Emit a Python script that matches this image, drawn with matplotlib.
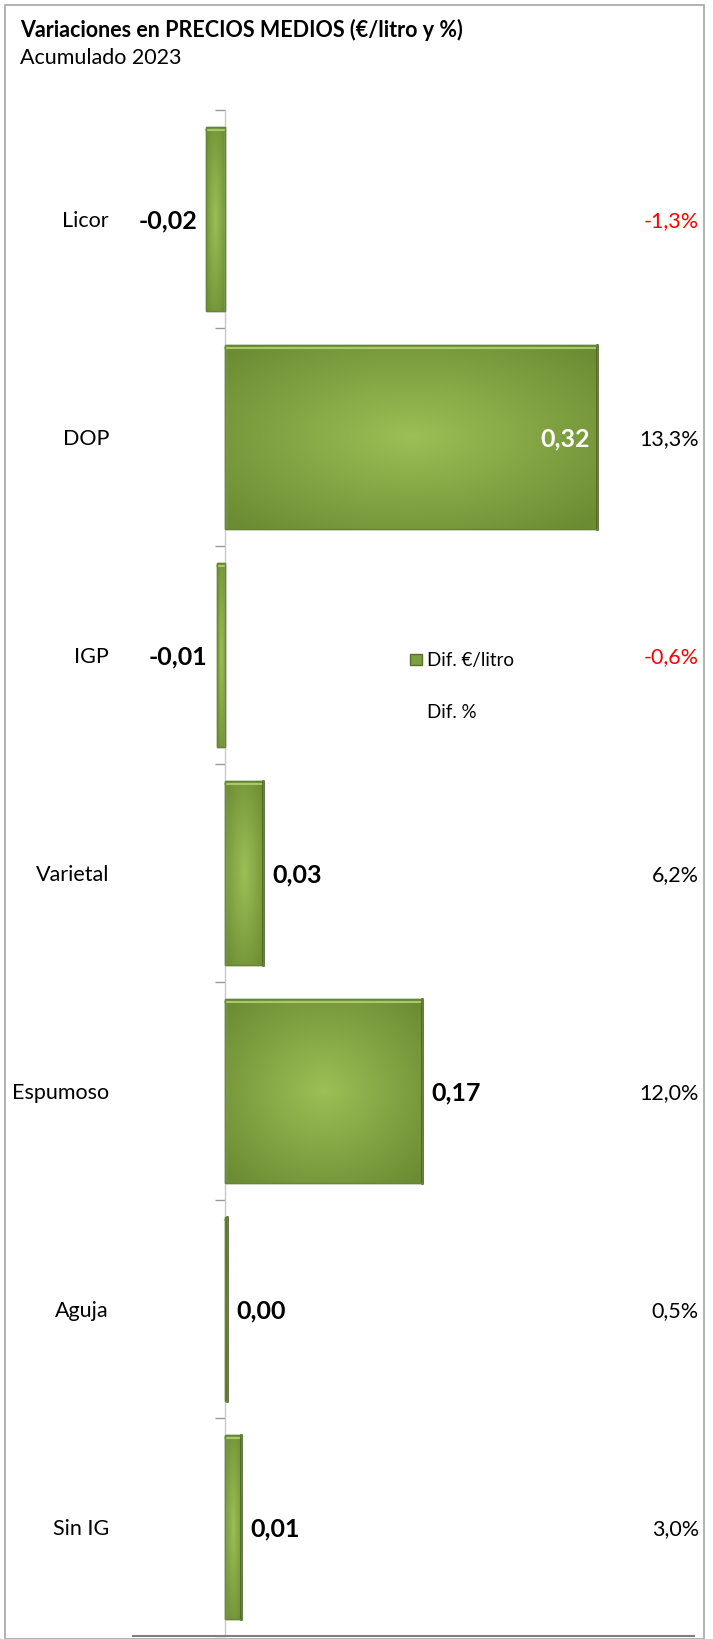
import numpy as np
import matplotlib
matplotlib.use("Agg")
import matplotlib.pyplot as plt
from matplotlib.colors import LinearSegmentedColormap
from matplotlib.patches import Patch, Rectangle
from matplotlib.lines import Line2D
import matplotlib.transforms as mtransforms

plt.rcParams['font.family'] = ['Lato', 'DejaVu Sans']

# ---------------- data ----------------
categories = ["Licor", "DOP", "IGP", "Varietal", "Espumoso", "Aguja", "Sin IG"]
dif_eur = [-0.016, 0.32, -0.007, 0.033, 0.17, 0.002, 0.014]
dif_pct = [-1.3, 13.3, -0.6, 6.2, 12.0, 0.5, 3.0]
title = "Variaciones en PRECIOS MEDIOS (€/litro y %)"
subtitle = "Acumulado 2023"
legend_labels = ["Dif. €/litro", "Dif. %"]

W, H = 713, 1639
fig = plt.figure(figsize=(W / 100, H / 100), dpi=100)

# outer border
fig.patches.append(Rectangle((5 / W, 0), (704 - 5) / W, 1 - 5 / H, transform=fig.transFigure,
                             fill=False, edgecolor="#A6A6A6", lw=1.2))

ax = fig.add_axes([133 / W, 1 - 1636 / H, (694 - 133) / W, (1636 - 110) / H])
ax.set_xlim(-0.0788, 0.4035)
ax.set_ylim(len(categories) - 0.5, -0.5)

ypos = np.arange(len(categories))
bar_h = 0.845
bars = ax.barh(ypos, dif_eur, height=bar_h, color="#8DB04A", edgecolor="#6A8A35", lw=1.0, zorder=2)

# gradient fill inside each bar
cmap = LinearSegmentedColormap.from_list("g", ["#6C8C33", "#84A544", "#9CBF56"])
nu, nv = 80, 80
u = np.linspace(-1, 1, nu)
v = np.linspace(-1, 1, nv)
UU, VV = np.meshgrid(u, v)
grad = 1 - np.clip(np.sqrt(UU ** 2 + VV ** 2), 0, 1.35) / 1.35
for b in bars:
    x0, y0, w, h = b.get_x(), b.get_y(), b.get_width(), b.get_height()
    x1 = x0 + w
    im = ax.imshow(grad, cmap=cmap, extent=(min(x0, x1), max(x0, x1), y0 + h, y0),
                   aspect="auto", zorder=2.5, interpolation="bilinear", vmin=0, vmax=1)
    im.set_clip_path(b)
    # light top highlight
    ax.add_line(Line2D([x0, x1], [y0 + 0.012, y0 + 0.012], color="#A9C86C", lw=1.5, zorder=2.8))
    # darker outer end
    if w > 0:
        ax.add_line(Line2D([x1, x1], [y0, y0 + h], color="#3F5420", lw=1.8, zorder=3))
    ax.add_patch(Rectangle((x0, y0), w, h, fill=False, edgecolor="#66853A", lw=1.0, zorder=3))

ax.set_xlim(-0.0788, 0.4035)
ax.set_ylim(len(categories) - 0.5, -0.5)

# spines & ticks
for s in ["top", "right"]:
    ax.spines[s].set_visible(False)
ax.spines["left"].set_position(("data", 0))
ax.spines["left"].set_color("#C8C8C8")
ax.spines["left"].set_linewidth(1.0)
ax.spines["bottom"].set_color("#7F7F7F")
ax.spines["bottom"].set_linewidth(1.5)
ax.set_xticks([])
ax.set_yticks(np.arange(-0.5, len(categories) + 0.5, 1.0))
ax.set_yticklabels([])
ax.tick_params(axis="y", direction="out", length=7, color="#999999", width=1.0)

# category labels and percentages
trans_l = mtransforms.blended_transform_factory(fig.transFigure, ax.transData)
for i, (cat, p) in enumerate(zip(categories, dif_pct)):
    ax.text(109 / W, i, cat, transform=trans_l, ha="right", va="center_baseline",
            fontsize=15.5, color="black")
    txt = f"{p:.1f}%".replace(".", ",")
    ax.text(699 / W, i, txt, transform=trans_l, ha="right", va="center_baseline", fontsize=15.5,
            color="#FF0000" if p < 0 else "black")

# value labels
for i, val in enumerate(dif_eur):
    lab = f"{val:.2f}".replace(".", ",")
    if val < 0:
        ax.annotate(lab, (val, i), xytext=(-9, 0), textcoords="offset pixels",
                    ha="right", va="center_baseline", fontsize=18, fontweight="bold", zorder=5)
    elif val > 0.25:
        ax.annotate(lab, (val, i), xytext=(-7, 0), textcoords="offset pixels",
                    ha="right", va="center_baseline", fontsize=18, fontweight="bold",
                    color="white", zorder=5)
    else:
        ax.annotate(lab, (val, i), xytext=(9, 0), textcoords="offset pixels",
                    ha="left", va="center_baseline", fontsize=18, fontweight="bold", zorder=5)

# legend
handles = [Patch(facecolor="#7E9F3F", edgecolor="#55702A"),
           Line2D([], [], color="none")]
fig.legend(handles, legend_labels, loc="upper left", bbox_to_anchor=(401 / W, 1 - 643 / H),
           frameon=False, fontsize=13.5, handlelength=0.64, handleheight=0.55, handletextpad=0.27,
           labelspacing=1.85, borderpad=0)

# titles
fig.text(20 / W, 1 - 30 / H, title, ha="left", va="center", fontsize=15.5, fontweight="bold")
fig.text(20 / W, 1 - 58 / H, subtitle, ha="left", va="center", fontsize=15.5)

fig.savefig("out.png", dpi=100)
